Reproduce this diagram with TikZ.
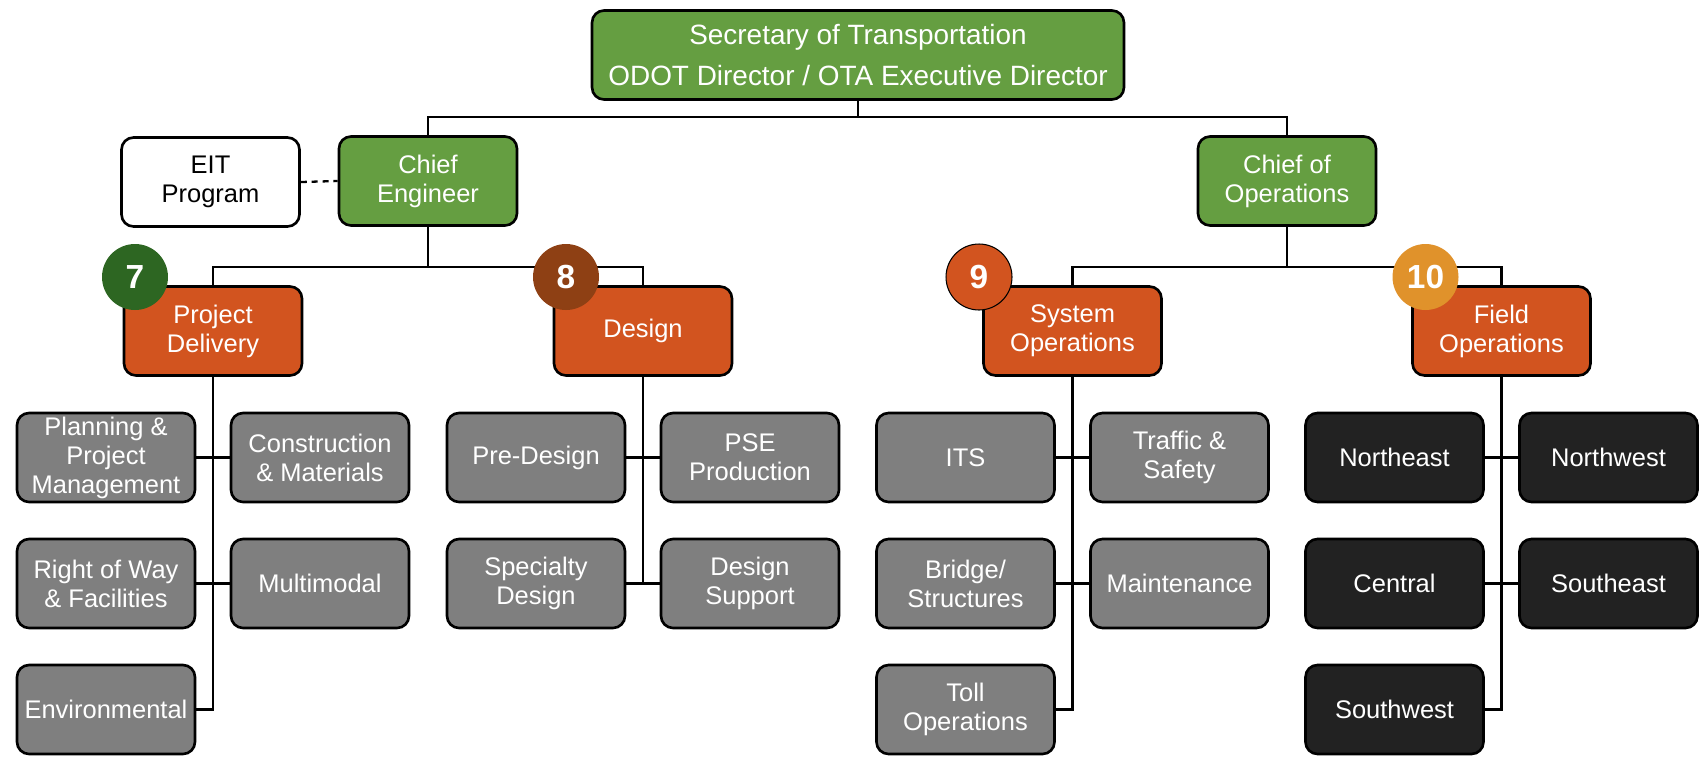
\documentclass[tikz,border=0pt]{standalone}
\usepackage{fontspec}
\setmainfont{Liberation Sans}
\definecolor{odgreen}{HTML}{659E41}
\definecolor{odorange}{HTML}{D2541F}
\definecolor{odgray}{HTML}{7F7F7F}
\definecolor{oddark}{HTML}{222222}
\definecolor{bseven}{HTML}{2D6622}
\definecolor{beight}{HTML}{8E4014}
\definecolor{bten}{HTML}{E0922B}

\begin{document}
\begin{tikzpicture}[x=0.02cm,y=-0.02cm,
  unit/.style={draw=black,line width=1.5pt,rounded corners=0.24cm,
    minimum width=3.56cm,minimum height=1.78cm,inner sep=1pt,align=center,
    text=white,font=\fontsize{14.5}{16.5}\selectfont},
  link/.style={line width=1.3pt},
  badge/.style={circle,minimum size=1.32cm,inner sep=0pt,text=white,
    font=\bfseries\fontsize{19}{19}\selectfont}]
  \useasboundingbox (0,0) rectangle (1703,765);
  \def\dx{107} \def\ra{457.5} \def\rb{583.5} \def\rc{709.5}
  % top levels
  \node[unit,fill=odgreen,minimum width=10.64cm,
    font=\fontsize{15.9}{23.2}\selectfont] (sec) at (858,55)
    {Secretary of Transportation\\ODOT Director / OTA Executive Director};
  \node[unit,fill=odgreen] (ce) at (428,181) {Chief\\Engineer};
  \node[unit,fill=white,text=black] (eit) at (210.5,182) {EIT\\Program};
  \node[unit,fill=odgreen] (co) at (1287,181) {Chief of\\Operations};
  % divisions
  \node[unit,fill=odorange] (pd) at (213,331) {Project\\Delivery};
  \node[unit,fill=odorange] (ds) at (643,331) {Design};
  \node[unit,fill=odorange] (so) at (1072.5,331) {System\\Operations};
  \node[unit,fill=odorange] (fo) at (1501.5,331) {Field\\Operations};
  % project delivery offices
  \node[unit,fill=odgray] (plan) at (213-\dx,\ra) {Planning \&\\Project\\Management};
  \node[unit,fill=odgray] (cons) at (213+\dx,\ra) {Construction\\\& Materials};
  \node[unit,fill=odgray] (row) at (213-\dx,\rb) {Right of Way\\\& Facilities};
  \node[unit,fill=odgray] (mm) at (213+\dx,\rb) {Multimodal};
  \node[unit,fill=odgray] (env) at (213-\dx,\rc) {Environmental};
  % design offices
  \node[unit,fill=odgray] (pre) at (643-\dx,\ra) {Pre-Design};
  \node[unit,fill=odgray] (pse) at (643+\dx,\ra) {PSE\\Production};
  \node[unit,fill=odgray] (spec) at (643-\dx,\rb) {Specialty\\Design};
  \node[unit,fill=odgray] (dsup) at (643+\dx,\rb) {Design\\Support};
  % system operations offices
  \node[unit,fill=odgray] (its) at (1072.5-\dx,\ra) {ITS};
  \node[unit,fill=odgray] (traf) at (1072.5+\dx,\ra) {Traffic \&\\Safety};
  \node[unit,fill=odgray] (brg) at (1072.5-\dx,\rb) {Bridge/\\Structures};
  \node[unit,fill=odgray] (mnt) at (1072.5+\dx,\rb) {Maintenance};
  \node[unit,fill=odgray] (toll) at (1072.5-\dx,\rc) {Toll\\Operations};
  % field regions
  \node[unit,fill=oddark] (ne) at (1501.5-\dx,\ra) {Northeast};
  \node[unit,fill=oddark] (nw) at (1501.5+\dx,\ra) {Northwest};
  \node[unit,fill=oddark] (cen) at (1501.5-\dx,\rb) {Central};
  \node[unit,fill=oddark] (se) at (1501.5+\dx,\rb) {Southeast};
  \node[unit,fill=oddark] (sw) at (1501.5-\dx,\rc) {Southwest};
  % connectors
  \coordinate (tj) at (sec.south |- 0,117);
  \coordinate (cej) at (ce.south |- 0,267);
  \coordinate (coj) at (co.south |- 0,267);
  \draw[link] (sec.south) -- (tj);
  \draw[link] (ce.north) |- (tj) -| (co.north);
  \draw[link,dash pattern=on 3.4pt off 2.8pt] (eit.east) -- (ce.west);
  \draw[link] (ce.south) -- (cej);
  \draw[link] (pd.north) |- (cej) -| (ds.north);
  \draw[link] (co.south) -- (coj);
  \draw[link] (so.north) |- (coj) -| (fo.north);
  \draw[link] (pd.south) |- (env.east);
  \draw[link] (plan.east) -- (cons.west);
  \draw[link] (row.east) -- (mm.west);
  \draw[link] (ds.south) |- (spec.east);
  \draw[link] (pre.east) -- (pse.west);
  \draw[link] (spec.east) -- (dsup.west);
  \draw[link] (so.south) |- (toll.east);
  \draw[link] (its.east) -- (traf.west);
  \draw[link] (brg.east) -- (mnt.west);
  \draw[link] (fo.south) |- (sw.east);
  \draw[link] (ne.east) -- (nw.west);
  \draw[link] (cen.east) -- (se.west);
  % numbered badges
  \foreach \n/\x/\c/\d in {7/135/bseven/none,8/566/beight/none,
      9/979/odorange/black,10/1425.5/bten/none}
    \node[badge,fill=\c,draw=\d,line width=0.6pt] (b\n) at (\x,277) {\n};
\end{tikzpicture}
\end{document}
